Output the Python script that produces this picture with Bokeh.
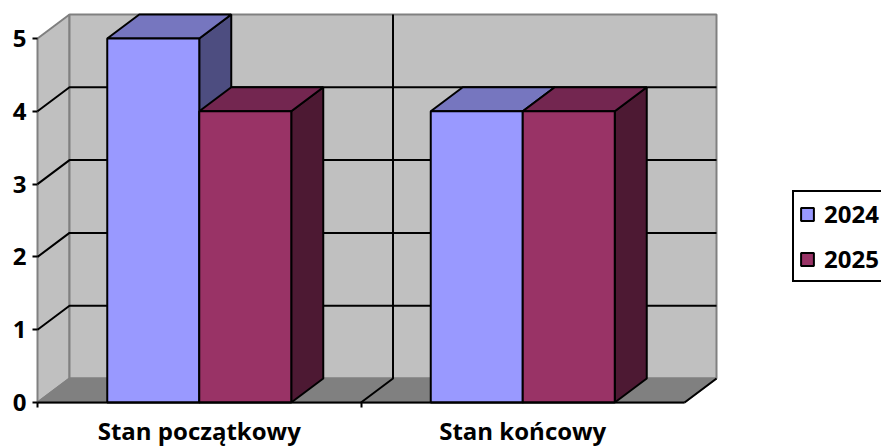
from bokeh.plotting import figure
from bokeh.embed import file_html
from bokeh.resources import INLINE
from bokeh.models import FixedTicker, Range1d, ColumnDataSource

categories = ["Stan początkowy", "Stan końcowy"]
series_names = ["2024", "2025"]
values_2024 = [5, 4]
values_2025 = [4, 4]
y_ticks = [0, 1, 2, 3, 4, 5]

FONT = "Open Sans"
PX_X = 323.5   # pixels per category
PX_Y = 72.8    # pixels per value unit
L, B = 37, 44  # distance of the axes from the left and bottom edge
W, H = 881, 446
DX = 32 / PX_X
DY = 24 / PX_Y
BW = 92 / PX_X
GAP = (1 - 2 * BW) / 2
YMAX = 5

p = figure(width=W, height=H, output_backend="svg", toolbar_location=None,
           x_range=Range1d(-L / PX_X, (W - L) / PX_X), y_range=Range1d(-B / PX_Y, (H - B) / PX_Y),
           min_border_left=0, min_border_bottom=0, min_border_top=0, min_border_right=0,
           outline_line_color=None, background_fill_color="white", border_fill_color="white")
p.grid.visible = False

n = len(categories)
GRAY, BLACK = "#808080", "#000000"
# walls and floor
p.patch([0, DX, DX, 0], [0, DY, YMAX + DY, YMAX], fill_color="#c0c0c0", line_color=GRAY, line_width=2)
p.patch([DX, n + DX, n + DX, DX], [DY, DY, YMAX + DY, YMAX + DY], fill_color="#c0c0c0", line_color=GRAY, line_width=2)
p.patch([0, n, n + DX, DX], [0, 0, DY, DY], fill_color="#808080", line_color=GRAY, line_width=2)
# gridlines
for v in y_ticks[1:-1]:
    p.line([0, DX, n + DX], [v, v + DY, v + DY], line_color=BLACK, line_width=2)
for c in range(1, n):
    p.line([c, c + DX, c + DX], [0, DY, YMAX + DY], line_color=BLACK, line_width=2)
p.line([n, n + DX], [0, DY], line_color=BLACK, line_width=2)

fronts = ["#9999ff", "#993366"]
tops = ["#7676bf", "#732650"]
sides = ["#4d4d80", "#4d1933"]
for c in range(n):
    for s, vals in enumerate([values_2024, values_2025]):
        x0 = c + GAP + s * BW
        x1 = x0 + BW
        v = vals[c]
        p.patch([x1, x1 + DX, x1 + DX, x1], [0, DY, v + DY, v], fill_color=sides[s], line_color=BLACK, line_width=2)
        p.patch([x0, x1, x1 + DX, x0 + DX], [v, v, v + DY, v + DY], fill_color=tops[s], line_color=BLACK, line_width=2)

for s, vals in enumerate([values_2024, values_2025]):
    lefts = [c + GAP + s * BW for c in range(n)]
    src = ColumnDataSource(dict(left=lefts, right=[a + BW for a in lefts], top=vals, bottom=[0] * n))
    p.quad(left="left", right="right", top="top", bottom="bottom", source=src,
           fill_color=fronts[s], line_color=BLACK, line_width=2, legend_label=series_names[s])

# axes
ya = p.yaxis[0]
ya.fixed_location = 0
ya.ticker = FixedTicker(ticks=y_ticks)
ya.bounds = (0, YMAX)
ya.axis_line_color = None
ya.major_tick_in = 0
ya.major_tick_out = 5
ya.major_tick_line_width = 2
ya.major_tick_line_color = BLACK
ya.minor_tick_line_color = None
ya.major_label_text_font = FONT
ya.major_label_text_font_style = "bold"
ya.major_label_text_font_size = "24px"
ya.major_label_text_color = BLACK
ya.major_label_standoff = 6

xa = p.xaxis[0]
xa.fixed_location = 0
xa.ticker = FixedTicker(ticks=[c + 0.5 for c in range(n)], minor_ticks=list(range(n)))
xa.major_label_overrides = {c + 0.5: categories[c] for c in range(n)}
xa.bounds = (0, n)
xa.axis_line_color = BLACK
xa.axis_line_width = 2
xa.major_tick_line_color = None
xa.minor_tick_line_color = BLACK
xa.minor_tick_line_width = 2
xa.minor_tick_in = 0
xa.minor_tick_out = 5
xa.major_label_text_font = FONT
xa.major_label_text_font_style = "bold"
xa.major_label_text_font_size = "24px"
xa.major_label_text_color = BLACK
xa.major_label_standoff = 5

# legend
lg = p.legend[0]
lg.location = (792, H - 282)
lg.border_line_color = BLACK
lg.border_line_alpha = 1
lg.border_line_width = 2
lg.background_fill_alpha = 1
lg.background_fill_color = "white"
lg.glyph_width = 16
lg.glyph_height = 16
lg.label_standoff = 9
lg.label_height = 28
lg.label_text_font = FONT
lg.label_text_font_style = "bold"
lg.label_text_font_size = "24px"
lg.label_text_color = BLACK
lg.padding = 5
lg.spacing = 12
lg.margin = 0

open("out.html", "w").write(file_html(p, INLINE))
